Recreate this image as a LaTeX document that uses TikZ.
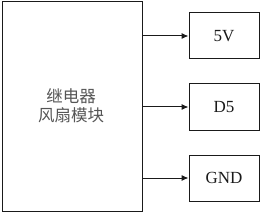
\documentclass[tikz,border=0pt]{standalone}
\usepackage{fontspec}
\setmainfont{Liberation Serif}
\newfontfamily\cjk{Noto Sans CJK SC}
\usetikzlibrary{arrows.meta, positioning}
\definecolor{lnblack}{HTML}{1A1A1A}
\definecolor{txgray}{HTML}{555555}

\begin{document}
\begin{tikzpicture}[x=1pt, y=-1pt,
  module/.style={rectangle, draw=lnblack, line width=1pt,
    minimum width=140pt, minimum height=209pt, inner sep=0pt},
  pin/.style={rectangle, draw=lnblack, line width=1pt,
    minimum width=70pt, minimum height=46pt, inner sep=0pt,
    font=\fontsize{17}{17}\selectfont, text=lnblack},
  >={Latex[length=7pt, width=6pt]},
  arr/.style={draw=lnblack, line width=1pt, ->},
]

% Bounding box
\useasboundingbox (0,0) rectangle (261,213);

\node[module] (relay) at (72,106.5) {};
\node[font=\cjk\fontsize{16.5}{19}\selectfont, text=txgray, align=center]
  (name) at (71,106) {继电器\\风扇模块};

\node[pin] (v5) at (224,36) {5V};
\node[pin, below=24pt of v5] (d5) {D5};
\node[pin, below=24pt of d5] (gnd) {GND};

\draw[arr] (relay.east |- v5.west) -- (v5.west);
\draw[arr] (relay.east |- d5.west) -- (d5.west);
\draw[arr] (relay.east |- gnd.west) -- (gnd.west);
\end{tikzpicture}
\end{document}
